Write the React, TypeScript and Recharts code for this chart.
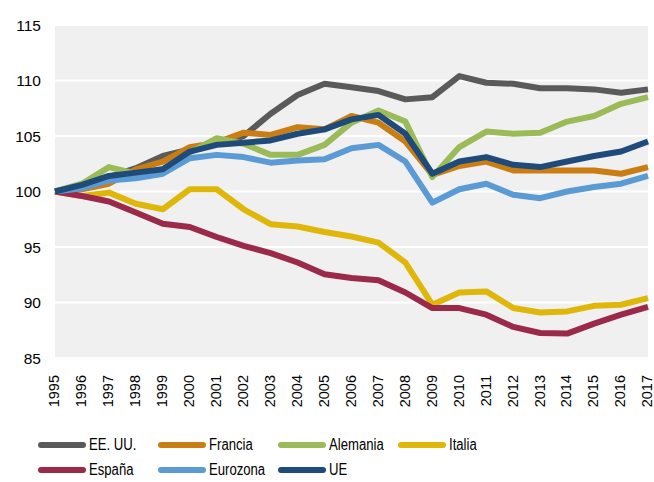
import React from "react";
import { LineChart, Line, XAxis, YAxis, CartesianGrid, Legend } from "recharts";

const years = [
  "1995", "1996", "1997", "1998", "1999", "2000", "2001", "2002", "2003", "2004", "2005", "2006",
  "2007", "2008", "2009", "2010", "2011", "2012", "2013", "2014", "2015", "2016", "2017",
];

const eeuu = [100, 100.5, 101.3, 102.1, 103.2, 103.8, 104.3, 105.0, 107.0, 108.7, 109.7, 109.4, 109.05, 108.3, 108.5, 110.4, 109.8, 109.7, 109.3, 109.3, 109.2, 108.9, 109.2];
const francia = [100, 100.2, 100.7, 102.0, 102.7, 104.0, 104.4, 105.3, 105.1, 105.8, 105.6, 106.8, 106.2, 104.5, 101.5, 102.3, 102.7, 101.9, 101.9, 101.9, 101.9, 101.6, 102.2];
const alemania = [100, 100.7, 102.2, 101.6, 102.0, 103.5, 104.8, 104.3, 103.3, 103.3, 104.2, 106.2, 107.3, 106.3, 101.3, 104.0, 105.4, 105.2, 105.3, 106.3, 106.8, 107.9, 108.5];
const italia = [100, 99.6, 99.9, 98.9, 98.4, 100.2, 100.2, 98.4, 97.05, 96.85, 96.35, 95.95, 95.4, 93.6, 89.8, 90.9, 91.0, 89.5, 89.1, 89.2, 89.7, 89.8, 90.4];
const espana = [100, 99.6, 99.1, 98.1, 97.1, 96.8, 95.9, 95.1, 94.45, 93.6, 92.55, 92.2, 92.0, 90.9, 89.5, 89.5, 88.9, 87.8, 87.25, 87.2, 88.1, 88.9, 89.6];
const eurozona = [100, 100.3, 101.0, 101.2, 101.6, 103.0, 103.3, 103.1, 102.6, 102.8, 102.9, 103.9, 104.2, 102.7, 99.0, 100.2, 100.7, 99.7, 99.4, 100.0, 100.4, 100.7, 101.4];
const ue = [100, 100.6, 101.4, 101.7, 102.0, 103.6, 104.2, 104.4, 104.6, 105.2, 105.6, 106.5, 106.9, 105.2, 101.6, 102.7, 103.1, 102.4, 102.2, 102.7, 103.2, 103.6, 104.5];

const yTicks = [85, 90, 95, 100, 105, 110, 115];

const series = [
  { key: "eeuu", name: "EE. UU.", color: "#5a5a5a", values: eeuu },
  { key: "francia", name: "Francia", color: "#c97d12", values: francia },
  { key: "alemania", name: "Alemania", color: "#9bbb59", values: alemania },
  { key: "italia", name: "Italia", color: "#dfb70a", values: italia },
  { key: "espana", name: "España", color: "#9b2a4a", values: espana },
  { key: "eurozona", name: "Eurozona", color: "#5b9bd5", values: eurozona },
  { key: "ue", name: "UE", color: "#1f4b7a", values: ue },
];

const data = years.map((y, i) => {
  const row: Record<string, any> = { year: y };
  series.forEach((s) => {
    row[s.key] = s.values[i];
  });
  return row;
});

const FONT = "'Liberation Sans', Arial, sans-serif";

const XTick = (props: any) => {
  const { x, y, payload } = props;
  const ty = y + 9;
  return (
    <text
      x={x}
      y={ty}
      transform={`rotate(-90, ${x}, ${ty})`}
      textAnchor="end"
      dy="0.3em"
      fontSize={14.5}
      fontFamily={FONT}
      fill="#000"
    >
      {payload.value}
    </text>
  );
};

const LegendContent = () => {
  const rows = [series.slice(0, 4), series.slice(4)];
  return (
    <div style={{ fontFamily: FONT, fontSize: 16, color: "#000" }}>
      {rows.map((row, ri) => (
        <div key={ri} style={{ display: "flex", height: 25, alignItems: "center", paddingLeft: 38 }}>
          {row.map((s) => (
            <div key={s.key} style={{ width: 120, display: "flex", alignItems: "center" }}>
              <svg width={48} height={8} style={{ marginRight: 3, flex: "none" }}>
                <line x1={3} y1={4} x2={45} y2={4} stroke={s.color} strokeWidth={6} strokeLinecap="round" />
              </svg>
              <span style={{ display: "inline-block", transform: "scaleX(0.82)", transformOrigin: "left center", whiteSpace: "nowrap" }}>
                {s.name}
              </span>
            </div>
          ))}
        </div>
      ))}
    </div>
  );
};

export default function App() {
  return (
    <div style={{ position: "absolute", left: 0, top: 0, width: 654, height: 482, background: "#fff" }}>
      <LineChart width={654} height={482} data={data} margin={{ top: 25, right: 6, bottom: 24, left: 0 }}>
        <CartesianGrid vertical={false} stroke="#ffffff" strokeWidth={2} fill="#f0f0f0" />
        <XAxis
          dataKey="year"
          axisLine={false}
          tickLine={false}
          interval={0}
          height={50}
          tick={<XTick />}
        />
        <YAxis
          domain={[85, 115]}
          ticks={yTicks}
          axisLine={false}
          tickLine={false}
          width={55}
          tick={{ fontSize: 15.5, fontFamily: FONT, fill: "#000", dx: -6 }}
        />
        <Legend
          content={<LegendContent />}
          height={50}
          wrapperStyle={{ position: "absolute", left: 0, top: 432, width: 654 }}
        />
        {series.map((s) => (
          <Line
            key={s.key}
            type="linear"
            dataKey={s.key}
            name={s.name}
            stroke={s.color}
            strokeWidth={6}
            dot={false}
            activeDot={false}
            strokeLinejoin="round"
            isAnimationActive={false}
          />
        ))}
      </LineChart>
    </div>
  );
}
